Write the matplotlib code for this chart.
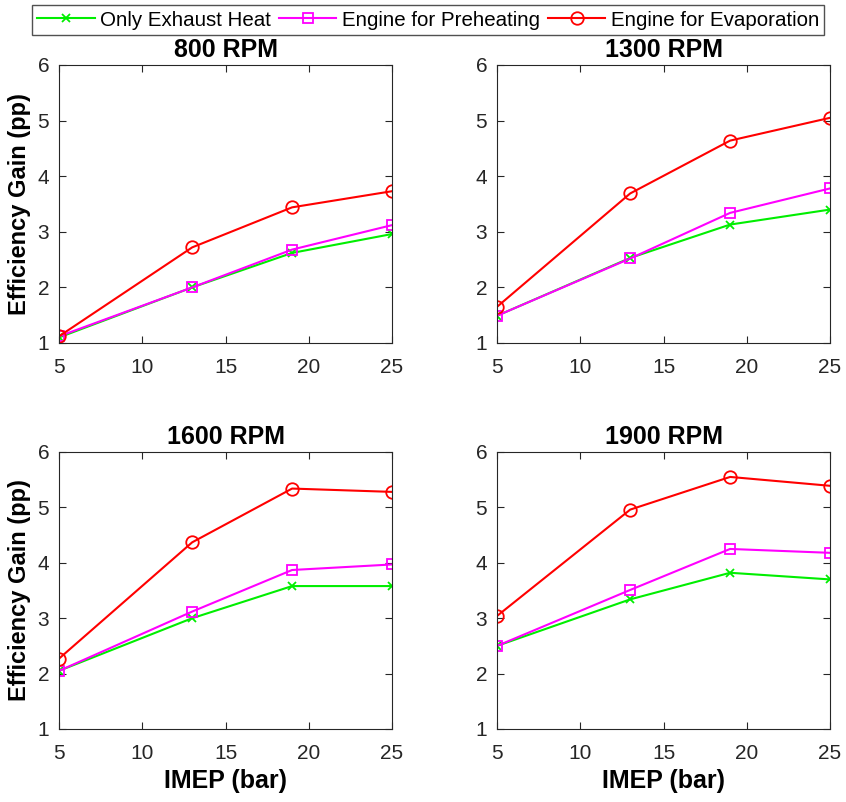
import matplotlib.pyplot as plt

# -----------------------------
# Data
# -----------------------------
imep = [5, 13, 19, 25]
titles = ["800 RPM", "1300 RPM", "1600 RPM", "1900 RPM"]

exhaust_only = [
    [1.10, 2.00, 2.62, 2.96],
    [1.49, 2.53, 3.13, 3.40],
    [2.05, 3.00, 3.58, 3.58],
    [2.50, 3.34, 3.82, 3.70],
]
engine_preheat = [
    [1.12, 2.00, 2.68, 3.12],
    [1.49, 2.52, 3.34, 3.78],
    [2.05, 3.12, 3.87, 3.97],
    [2.50, 3.51, 4.25, 4.18],
]
engine_evap = [
    [1.12, 2.72, 3.44, 3.73],
    [1.65, 3.69, 4.64, 5.05],
    [2.27, 4.37, 5.34, 5.28],
    [3.04, 4.96, 5.55, 5.39],
]

# -----------------------------
# Style
# -----------------------------
plt.rcParams['font.family'] = ['Liberation Sans', 'DejaVu Sans']
dark = '#262626'

fig = plt.figure(figsize=(8.46, 8.02), dpi=100)

W, H = 846, 802
boxes = [
    (59, 65, 392, 343),
    (497, 65, 830, 343),
    (59, 452, 392, 729),
    (497, 452, 830, 729),
]

handles = None
for i, (x0, y0, x1, y1) in enumerate(boxes):
    ax = fig.add_axes([x0 / W, 1 - y1 / H, (x1 - x0) / W, (y1 - y0) / H])
    l1, = ax.plot(imep, exhaust_only[i], color='#00ee00', marker='x', markersize=6,
                  markeredgewidth=1.3, linewidth=1.5, label='Only Exhaust Heat')
    l2, = ax.plot(imep, engine_preheat[i], color='#ff00ff', marker='s', markersize=7,
                  markerfacecolor='none', markeredgewidth=1.3, linewidth=1.5,
                  label='Engine for Preheating')
    l3, = ax.plot(imep, engine_evap[i], color='#ff0000', marker='o', markersize=9,
                  markerfacecolor='none', markeredgewidth=1.3, linewidth=1.5,
                  label='Engine for Evaporation')
    handles = [l1, l2, l3]

    ax.set_xlim(5, 25)
    ax.set_ylim(1, 6)
    ax.set_xticks([5, 10, 15, 20, 25])
    ax.set_yticks([1, 2, 3, 4, 5, 6])
    ax.tick_params(direction='in', top=True, right=True, labelsize=15,
                   colors=dark, length=5, width=0.8)
    ax.tick_params(axis='x', pad=11)
    ax.tick_params(axis='y', pad=7)
    for s in ax.spines.values():
        s.set_color(dark)
        s.set_linewidth(0.8)
    ax.set_title(titles[i], fontsize=18, fontweight='bold', pad=6)
    if i % 2 == 0:
        ax.set_ylabel('Efficiency Gain (pp)', fontsize=17, fontweight='bold', labelpad=5)
    if i >= 2:
        ax.set_xlabel('IMEP (bar)', fontsize=18, fontweight='bold', labelpad=4)

fig.legend(handles=handles, loc='center', bbox_to_anchor=(428 / W, 1 - 20 / H),
           ncol=3, fontsize=14.8, frameon=True, fancybox=False, edgecolor=dark,
           handlelength=2.8, handletextpad=0.25, columnspacing=0.4,
           borderpad=0.25, borderaxespad=0)

plt.savefig("out.png", dpi=100)
plt.close()
